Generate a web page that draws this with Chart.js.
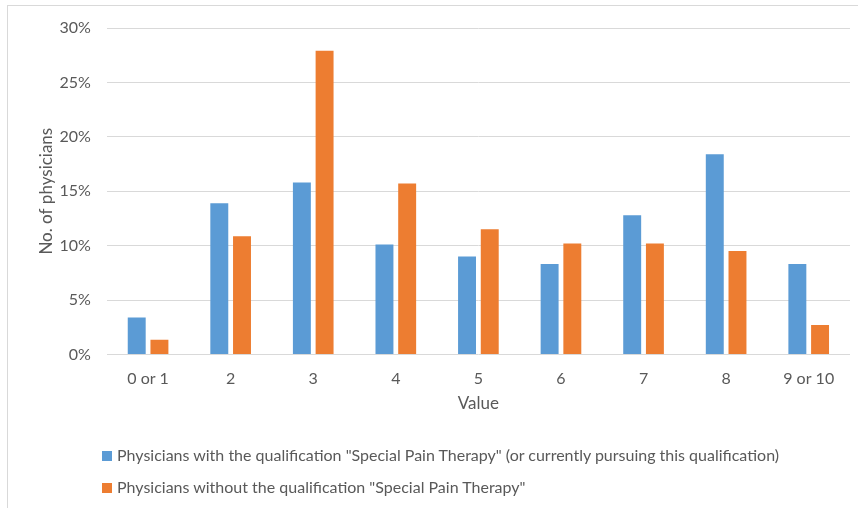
<!DOCTYPE html>
<html>
<head>
<meta charset="utf-8">
<script src="https://cdn.jsdelivr.net/npm/chart.js@4"></script>
<style>
  body { margin: 0; background: #fff; }
  .frame { position: absolute; left: 7px; top: 5px; width: 860px; height: 510px;
           border-left: 1px solid #d9d9d9; border-top: 1px solid #d9d9d9; }
  .wrap { position: absolute; left: 0; top: 0; width: 858px; height: 508px; }
  .legend { position: absolute; left: 102px; top: 443px; font-family: Lato, sans-serif;
            font-size: 16px; color: #595959; }
  .legend div { height: 32px; line-height: 24px; white-space: nowrap; }
  .legend span.box { display: inline-block; width: 10px; height: 10px; margin-right: 5px;
                     vertical-align: 0px; }
</style>
</head>
<body>
<div class="frame"></div>
<div class="wrap"><canvas id="myChart" width="858" height="508"></canvas></div>
<div class="legend" id="legend"></div>
<script>
const categories = ["0 or 1", "2", "3", "4", "5", "6", "7", "8", "9 or 10"];
const withQualification = [3.4, 13.9, 15.8, 10.1, 9.0, 8.3, 12.8, 18.4, 8.3];
const withoutQualification = [1.35, 10.85, 27.9, 15.7, 11.5, 10.2, 10.2, 9.5, 2.7];
const yTicks = [0, 5, 10, 15, 20, 25, 30];
const seriesNames = [
  'Physicians with the qualification "Special Pain Therapy" (or currently pursuing this qualification)',
  'Physicians without the qualification "Special Pain Therapy"'
];
const colors = ["#5B9BD5", "#ED7D31"];

const grey = "#595959";
const font = "Lato, sans-serif";

const ctx = document.getElementById("myChart");
const myChart = new Chart(ctx, {
  type: "bar",
  data: {
    labels: categories,
    datasets: [
      { label: seriesNames[0], data: withQualification, backgroundColor: colors[0] },
      { label: seriesNames[1], data: withoutQualification, backgroundColor: colors[1] }
    ]
  },
  options: {
    responsive: false,
    animation: false,
    categoryPercentage: 0.55,
    barPercentage: 0.79,
    layout: { padding: { left: 36, right: 8, top: 28, bottom: 94 } },
    plugins: {
      legend: { display: false },
      tooltip: { enabled: false }
    },
    scales: {
      x: {
        grid: { display: false },
        border: { display: false },
        ticks: { color: grey, font: { family: font, size: 16 }, padding: 7 },
        title: { display: true, text: "Value", color: grey, font: { family: font, size: 17 }, padding: { top: -2, bottom: 0 } }
      },
      y: {
        min: 0,
        max: 30,
        afterBuildTicks: (axis) => { axis.ticks = yTicks.map(v => ({ value: v })); },
        grid: { color: "#d9d9d9", lineWidth: 1, drawTicks: false },
        border: { display: false },
        ticks: { color: grey, font: { family: font, size: 16 }, padding: 16, callback: v => v + "%" },
        title: { display: true, text: "No. of physicians", color: grey, font: { family: font, size: 17 }, padding: { top: 0, bottom: -13 } }
      }
    }
  }
});

const legend = document.getElementById("legend");
seriesNames.forEach((name, i) => {
  const row = document.createElement("div");
  const box = document.createElement("span");
  box.className = "box";
  box.style.background = colors[i];
  row.appendChild(box);
  row.appendChild(document.createTextNode(name));
  legend.appendChild(row);
});
</script>
</body>
</html>
